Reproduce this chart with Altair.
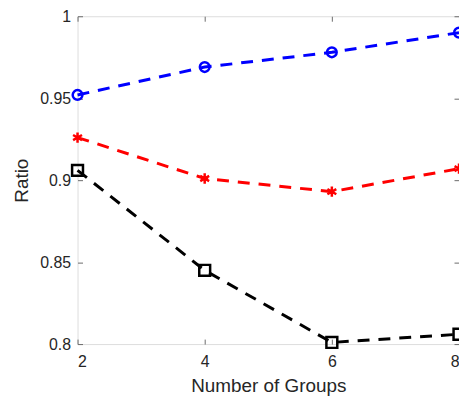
import altair as alt
import pandas as pd

groups = [2, 4, 6, 8]
blue_vals = [0.952, 0.969, 0.978, 0.990]
red_vals = [0.926, 0.901, 0.893, 0.907]
black_vals = [0.906, 0.845, 0.801, 0.806]
series_names = ["blue", "red", "black"]
series_colors = ["#0000FF", "#FF0000", "#000000"]
x_ticks = [2, 4, 6, 8]
y_ticks = [0.8, 0.85, 0.9, 0.95, 1.0]

ASTERISK = "M0,-1L0,1M-0.866,-0.5L0.866,0.5M-0.866,0.5L0.866,-0.5"

rows = []
for name, vals in zip(series_names, [blue_vals, red_vals, black_vals]):
    for g, v in zip(groups, vals):
        rows.append({"g": g, "v": v, "s": name})
df = pd.DataFrame(rows)

FONT = "Liberation Sans"
AX = "#6b6b6b"
TXT = "#262626"

xs = alt.Scale(domain=[2, 8], nice=False, zero=False)
ys = alt.Scale(domain=[0.8, 1.0], nice=False, zero=False)
color = alt.Color("s:N", scale=alt.Scale(domain=series_names, range=series_colors), legend=None)
shape = alt.Shape("s:N", scale=alt.Scale(domain=series_names, range=["circle", ASTERISK, "square"]), legend=None)
size = alt.Size("s:N", scale=alt.Scale(domain=series_names, range=[95, 120, 80]), legend=None)

x_axis = alt.Axis(values=x_ticks, title="Number of Groups", domain=False, grid=False,
                  tickSize=5, offset=-5, labelPadding=10, labelFontSize=16, titleFontSize=19,
                  titleFontWeight="normal", labelColor=TXT, titleColor=TXT, tickColor=AX,
                  titlePadding=7, labelFont=FONT, titleFont=FONT, orient="bottom")
y_axis = alt.Axis(values=y_ticks, title="Ratio", domain=False, grid=False, format="~g",
                  tickSize=5, offset=-5, labelPadding=7, labelFontSize=16, titleFontSize=19,
                  titleFontWeight="normal", labelColor=TXT, titleColor=TXT, tickColor=AX,
                  titlePadding=8, labelFont=FONT, titleFont=FONT, orient="left")
x_top = alt.Axis(values=x_ticks, title=None, labels=False, domain=False, grid=False,
                 tickSize=5, offset=-5, tickColor=AX, orient="top")
y_right = alt.Axis(values=y_ticks, title=None, labels=False, domain=False, grid=False,
                   tickSize=5, offset=-5, tickColor=AX, orient="right")

base = alt.Chart(df)

lines = base.mark_line(strokeWidth=3, strokeDash=[12, 9], clip=False).encode(
    x=alt.X("g:Q", scale=xs, axis=x_axis),
    y=alt.Y("v:Q", scale=ys, axis=y_axis),
    color=color,
    detail="s:N",
)

points = base.mark_point(filled=False, strokeWidth=2.5, clip=False, opacity=1).encode(
    x=alt.X("g:Q", scale=xs, axis=None),
    y=alt.Y("v:Q", scale=ys, axis=None),
    color=color,
    shape=shape,
    size=size,
)

axes2 = base.mark_point(opacity=0).encode(
    x=alt.X("g:Q", scale=xs, axis=x_top),
    y=alt.Y("v:Q", scale=ys, axis=y_right),
)

chart = alt.layer(lines, points, axes2).resolve_axis(
    x="independent", y="independent"
).resolve_scale(size="independent").properties(
    width=384, height=330,
    padding={"left": 70, "top": 7, "right": 0, "bottom": 56},
    autosize=alt.AutoSizeParams(type="none"),
).configure_view(stroke=AX, strokeWidth=1).configure(background="white")

chart.save("out.html", embed_options={"renderer": "svg", "actions": False})
